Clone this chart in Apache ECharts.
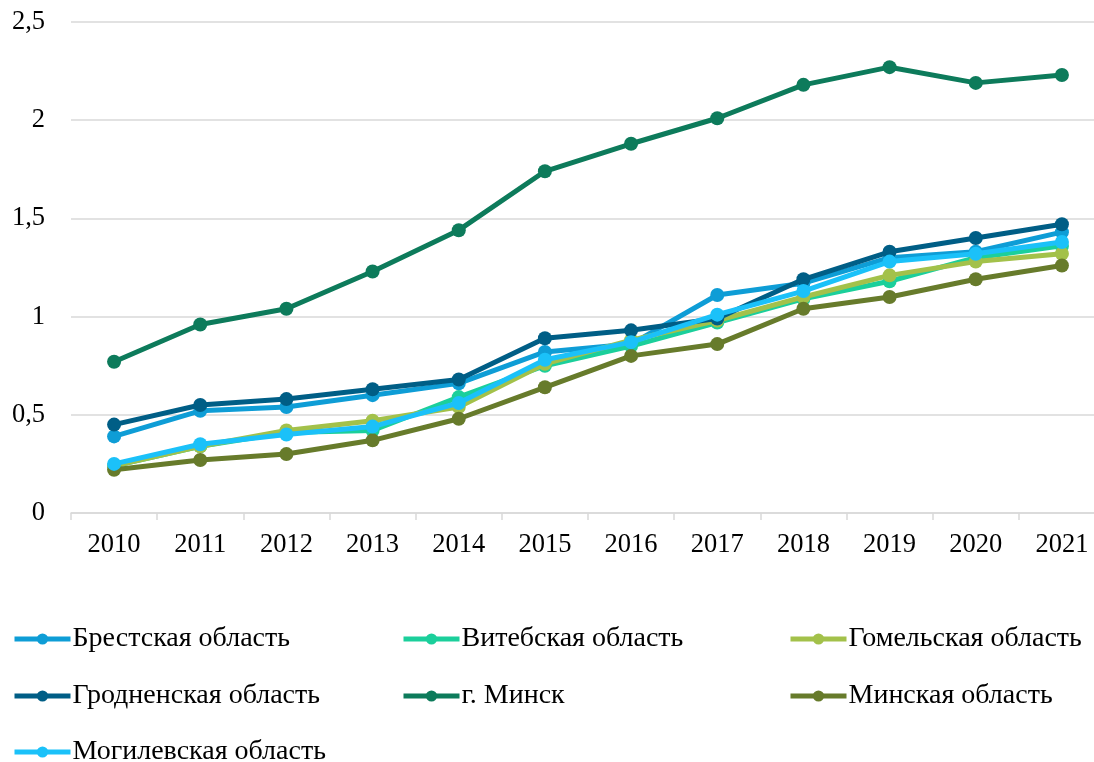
<!DOCTYPE html>
<html>
<head>
<meta charset="utf-8">
<script src="https://cdn.jsdelivr.net/npm/echarts@6/dist/echarts.min.js"></script>
<style>
    html, body { margin: 0; padding: 0; background: #fff; overflow: hidden; }
    /* plot area runs slightly past the right edge, as in the source picture */
    #chart { width: 1105px; height: 762px; }
</style>
</head>
<body>
<div id="chart"></div>
<script>
    // годы
    var years = ['2010', '2011', '2012', '2013', '2014', '2015', '2016', '2017', '2018', '2019', '2020', '2021'];

    var brest    = [0.39, 0.52, 0.54, 0.60, 0.66, 0.82, 0.86, 1.11, 1.17, 1.30, 1.33, 1.43];
    var vitebsk  = [0.24, 0.34, 0.41, 0.42, 0.59, 0.75, 0.85, 0.97, 1.09, 1.18, 1.30, 1.36];
    var gomel    = [0.24, 0.34, 0.42, 0.47, 0.54, 0.76, 0.88, 0.98, 1.10, 1.21, 1.28, 1.32];
    var grodno   = [0.45, 0.55, 0.58, 0.63, 0.68, 0.89, 0.93, 0.99, 1.19, 1.33, 1.40, 1.47];
    var minskCity = [0.77, 0.96, 1.04, 1.23, 1.44, 1.74, 1.88, 2.01, 2.18, 2.27, 2.19, 2.23];
    var minskReg = [0.22, 0.27, 0.30, 0.37, 0.48, 0.64, 0.80, 0.86, 1.04, 1.10, 1.19, 1.26];
    var mogilev  = [0.25, 0.35, 0.40, 0.44, 0.56, 0.78, 0.87, 1.01, 1.13, 1.28, 1.32, 1.38];

    var names = ['Брестская область', 'Витебская область', 'Гомельская область',
        'Гродненская область', 'г. Минск', 'Минская область', 'Могилевская область'];
    var values = [brest, vitebsk, gomel, grodno, minskCity, minskReg, mogilev];
    var colors = ['#0e9dd6', '#1bcf9b', '#a3c14a', '#005e86', '#0d7b5b', '#677b2b', '#1bc1f9'];

    var fontFamily = '"Liberation Serif", "Times New Roman", serif';

    var series = names.map(function (name, i) {
        return {
            name: name,
            type: 'line',
            data: values[i],
            symbol: 'circle',
            symbolSize: 14,
            lineStyle: { width: 5, color: colors[i] },
            itemStyle: { color: colors[i] },
            z: 2 + i,
            animation: false
        };
    });

    // легенда: три колонки
    var legendPos = [
        [12, 625], [401, 625], [788, 625],
        [12, 682], [401, 682], [788, 682],
        [12, 738]
    ];
    var legends = names.map(function (name, i) {
        return {
            data: [name],
            left: legendPos[i][0],
            top: legendPos[i][1],
            padding: 0,
            itemWidth: 56,
            itemHeight: 14,
            itemGap: 4,
            lineStyle: { width: 5 },
            textStyle: { fontFamily: fontFamily, fontSize: 28, color: '#000', padding: [0, 0, 0, -3] }
        };
    });

    var chart = echarts.init(document.getElementById('chart'));
    chart.setOption({
        backgroundColor: '#fff',
        color: colors,
        animation: false,
        legend: legends,
        grid: { left: 71, top: 22, width: 1034, height: 491 },
        xAxis: {
            type: 'category',
            data: years,
            boundaryGap: true,
            axisLine: { lineStyle: { color: '#d9d9d9', width: 1.5 } },
            axisTick: { show: true, length: 7, lineStyle: { color: '#d9d9d9', width: 1.5 } },
            axisLabel: { color: '#000', fontFamily: fontFamily, fontSize: 26.5, margin: 19 }
        },
        yAxis: {
            type: 'value',
            min: 0,
            max: 2.5,
            interval: 0.5,
            axisLine: { show: false },
            axisTick: { show: false },
            splitLine: { lineStyle: { color: '#d9d9d9', width: 1.5 } },
            axisLabel: {
                color: '#000', fontFamily: fontFamily, fontSize: 26.5, margin: 26,
                formatter: function (v) { return String(v).replace('.', ','); }
            }
        },
        series: series
    });
</script>
</body>
</html>
